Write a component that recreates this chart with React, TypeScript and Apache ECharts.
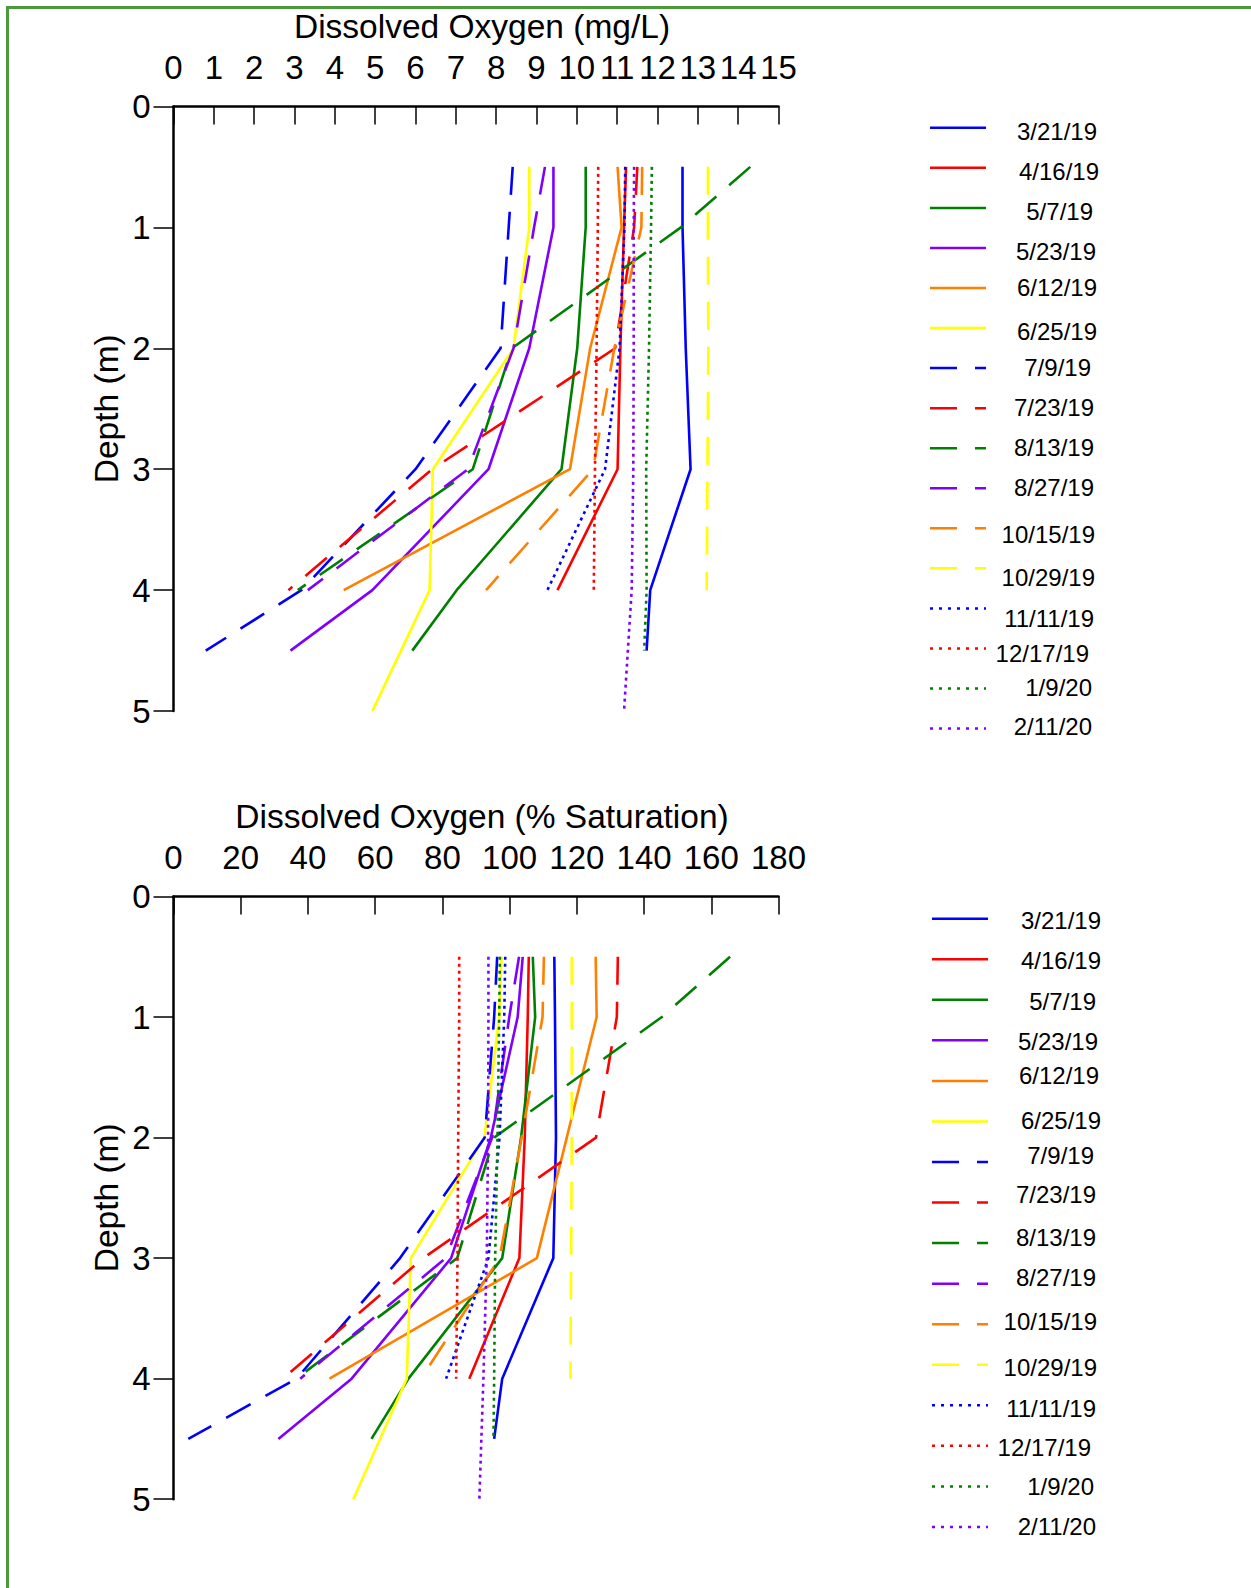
import React, { useEffect, useRef } from "react";
import * as echarts from "echarts";

// ---------- data ----------
const dates = [
  "3/21/19", "4/16/19", "5/7/19", "5/23/19", "6/12/19", "6/25/19",
  "7/9/19", "7/23/19", "8/13/19", "8/27/19", "10/15/19", "10/29/19",
  "11/11/19", "12/17/19", "1/9/20", "2/11/20",
];
const colors = [
  "#0000ff", "#ff0000", "#008000", "#8000ff", "#ff8000", "#ffff00",
  "#0000ff", "#ff0000", "#008000", "#8000ff", "#ff8000", "#ffff00",
  "#0000ff", "#ff0000", "#008000", "#8000ff",
];
const lineKinds = [
  "solid", "solid", "solid", "solid", "solid", "solid",
  "dashed", "dashed", "dashed", "dashed", "dashed", "dashed",
  "dotted", "dotted", "dotted", "dotted",
];

// depth (m) profiles
const depthTo4 = [0.5, 1, 2, 3, 4];
const depthTo45 = [0.5, 1, 2, 3, 4, 4.5];
const depthTo5 = [0.5, 1, 2, 3, 4, 5];
const seriesDepths = [
  depthTo45, depthTo4, depthTo45, depthTo45, depthTo4, depthTo5,
  depthTo45, depthTo4, depthTo4, depthTo4, depthTo4, depthTo4,
  depthTo4, depthTo4, depthTo45, depthTo5,
];

// dissolved oxygen (mg/L)
const mg_3_21_19 = [12.62, 12.62, 12.7, 12.82, 11.82, 11.73];
const mg_4_16_19 = [11.22, 11.17, 11.08, 11.01, 9.52];
const mg_5_7_19 = [10.22, 10.22, 10.01, 9.62, 7.02, 5.92];
const mg_5_23_19 = [9.42, 9.42, 8.82, 7.81, 4.93, 2.9];
const mg_6_12_19 = [11.01, 11.11, 10.33, 9.83, 4.22];
const mg_6_25_19 = [8.82, 8.82, 8.43, 6.43, 6.35, 4.93];
const mg_7_9_19 = [8.41, 8.31, 8.11, 6.0, 3.17, 0.8];
const mg_7_23_19 = [11.5, 11.42, 10.95, 6.41, 2.85];
const mg_8_13_19 = [14.3, 12.58, 8.39, 7.42, 3.08];
const mg_8_27_19 = [9.21, 8.94, 8.43, 7.3, 3.33];
const mg_10_15_19 = [11.62, 11.6, 10.93, 10.4, 7.75];
const mg_10_29_19 = [13.25, 13.25, 13.26, 13.24, 13.22];
const mg_11_11_19 = [11.2, 11.18, 11.06, 10.7, 9.27];
const mg_12_17_19 = [10.53, 10.52, 10.49, 10.45, 10.42];
const mg_1_9_20 = [11.86, 11.84, 11.79, 11.72, 11.73, 11.67];
const mg_2_11_20 = [11.42, 11.41, 11.41, 11.4, 11.36, 11.17];

// dissolved oxygen (% saturation)
const sat_3_21_19 = [113.3, 113.5, 113.8, 113.0, 97.8, 95.4];
const sat_4_16_19 = [105.7, 105.4, 104.5, 102.9, 88.0];
const sat_5_7_19 = [106.9, 107.6, 103.4, 97.8, 69.9, 58.9];
const sat_5_23_19 = [103.9, 102.4, 94.4, 82.6, 53.0, 31.2];
const sat_6_12_19 = [125.6, 125.9, 117.0, 108.1, 46.4];
const sat_6_25_19 = [97.6, 96.9, 92.5, 70.6, 69.4, 53.5];
const sat_7_9_19 = [96.3, 95.4, 92.6, 67.4, 36.6, 4.4];
const sat_7_23_19 = [132.2, 131.9, 125.7, 74.3, 32.5];
const sat_8_13_19 = [165.6, 145.3, 95.4, 84.4, 36.5];
const sat_8_27_19 = [102.8, 99.9, 94.8, 81.0, 37.7];
const sat_10_15_19 = [110.2, 109.8, 103.6, 97.0, 73.6];
const sat_10_29_19 = [118.5, 118.5, 118.5, 118.3, 118.1];
const sat_11_11_19 = [98.7, 98.4, 97.0, 93.7, 81.1];
const sat_12_17_19 = [85.0, 85.0, 84.7, 84.5, 84.1];
const sat_1_9_20 = [97.1, 96.9, 96.4, 95.7, 95.4, 95.2];
const sat_2_11_20 = [93.7, 93.7, 93.6, 93.2, 92.2, 91.0];

const mgValues = [
  mg_3_21_19, mg_4_16_19, mg_5_7_19, mg_5_23_19, mg_6_12_19, mg_6_25_19,
  mg_7_9_19, mg_7_23_19, mg_8_13_19, mg_8_27_19, mg_10_15_19, mg_10_29_19,
  mg_11_11_19, mg_12_17_19, mg_1_9_20, mg_2_11_20,
];
const satValues = [
  sat_3_21_19, sat_4_16_19, sat_5_7_19, sat_5_23_19, sat_6_12_19, sat_6_25_19,
  sat_7_9_19, sat_7_23_19, sat_8_13_19, sat_8_27_19, sat_10_15_19, sat_10_29_19,
  sat_11_11_19, sat_12_17_19, sat_1_9_20, sat_2_11_20,
];

// ---------- layout ----------
const FONT = "'Liberation Sans', Arial, Helvetica, sans-serif";
const legendTopTextY = [131.8, 171.4, 211, 251, 287.8, 331.4, 367.3, 407, 447.8, 487.8, 534.7, 577.6, 618.4, 653, 687.8, 726.5];
const legendBottomTextY = [920, 960.8, 1001.2, 1041.2, 1075.7, 1120.7, 1155.7, 1194.8, 1237.7, 1277.7, 1321.9, 1367.4, 1408.2, 1447.3, 1486.1, 1526.9];
const legendTopTextRight = [1097, 1099, 1093, 1096, 1097, 1097, 1091, 1094, 1094, 1094, 1095, 1095, 1094, 1089, 1092, 1092];
const legendBottomTextRight = [1101, 1101, 1096, 1098, 1099, 1101, 1094, 1096, 1096, 1096, 1097, 1097, 1096, 1091, 1094, 1096];

function plotDash(kind: string): any {
  if (kind === "dashed") return [28, 17];
  if (kind === "dotted") return [3, 4];
  return "solid";
}
function legendDash(kind: string): any {
  if (kind === "dashed") return [27, 18];
  if (kind === "dotted") return [3, 6];
  return null;
}

function buildSeries(values: number[][], idx: number) {
  return dates.map((name, i) => ({
    name: name,
    type: "line",
    xAxisIndex: idx,
    yAxisIndex: idx,
    data: values[i].map((v, j) => [v, seriesDepths[i][j]]),
    symbol: "none",
    showSymbol: false,
    silent: true,
    lineStyle: { color: colors[i], width: 2.6, type: plotDash(lineKinds[i]), cap: "butt" },
    itemStyle: { color: colors[i] },
  }));
}

function xAxisCfg(gridIndex: number, max: number, interval: number, name: string) {
  return {
    type: "value",
    gridIndex,
    position: "top",
    min: 0,
    max,
    interval,
    name,
    nameLocation: "middle",
    nameGap: 63,
    nameTextStyle: { fontSize: 33.5, color: "#000", fontFamily: FONT, padding: [0, 0, 0, 12] },
    axisLine: { show: true, onZero: false, lineStyle: { color: "#000", width: 2.5 } },
    axisTick: { show: true, inside: true, length: 18, lineStyle: { color: "#000", width: 1.5 } },
    axisLabel: { show: true, margin: 22.5, fontSize: 33, color: "#000", fontFamily: FONT },
    splitLine: { show: false },
  };
}

function yAxisCfg(gridIndex: number) {
  return {
    type: "value",
    gridIndex,
    inverse: true,
    min: 0,
    max: 5,
    interval: 1,
    name: "Depth (m)",
    nameLocation: "middle",
    nameGap: 50,
    nameTextStyle: { fontSize: 33.5, color: "#000", fontFamily: FONT },
    axisLine: { show: true, onZero: false, lineStyle: { color: "#000", width: 2.5 } },
    axisTick: { show: true, inside: false, length: 20, lineStyle: { color: "#000", width: 1.5 } },
    axisLabel: { show: true, margin: 23, fontSize: 33, color: "#000", fontFamily: FONT },
    splitLine: { show: false },
  };
}

function legendGraphics(lineX1: number, lineX2: number, lineY0: number, lineStep: number, textY: number[], textRight: number[]) {
  const out: any[] = [];
  dates.forEach((name, i) => {
    const y = lineY0 + i * lineStep;
    const dash = legendDash(lineKinds[i]);
    out.push({
      type: "line",
      silent: true,
      shape: { x1: lineX1, y1: y, x2: lineX2, y2: y },
      style: { stroke: colors[i], lineWidth: 2.5, lineDash: dash || undefined },
    });
    out.push({
      type: "text",
      silent: true,
      x: textRight[i],
      y: textY[i],
      style: {
        text: name,
        fontSize: 24,
        fontFamily: FONT,
        fill: "#000",
        align: "right",
        verticalAlign: "middle",
      },
    });
  });
  return out;
}

const option: any = {
  animation: false,
  backgroundColor: "transparent",
  grid: [
    { left: 173.5, top: 106.4, width: 605, height: 604.7, containLabel: false },
    { left: 173.5, top: 896.5, width: 605, height: 602.7, containLabel: false },
  ],
  xAxis: [
    xAxisCfg(0, 15, 1, "Dissolved Oxygen (mg/L)"),
    xAxisCfg(1, 180, 20, "Dissolved Oxygen (% Saturation)"),
  ],
  yAxis: [yAxisCfg(0), yAxisCfg(1)],
  series: [...buildSeries(mgValues, 0), ...buildSeries(satValues, 1)],
  graphic: [
    ...legendGraphics(930, 986, 127.8, 40.05, legendTopTextY, legendTopTextRight),
    ...legendGraphics(932, 988, 918.7, 40.55, legendBottomTextY, legendBottomTextRight),
  ],
};

export default function App() {
  const ref = useRef<HTMLDivElement>(null);
  useEffect(() => {
    if (!ref.current) return;
    const chart = echarts.init(ref.current, null, { renderer: "svg" });
    chart.setOption(option);
    return () => chart.dispose();
  }, []);
  return (
    <div style={{ position: "fixed", left: 0, top: 0, width: 1251, height: 1588, background: "#fff", overflow: "hidden" }}>
      <div
        style={{
          position: "absolute",
          left: 6,
          top: 6,
          width: 1300,
          height: 1700,
          borderLeft: "3px solid #4b9b3d",
          borderTop: "3px solid #4b9b3d",
        }}
      />
      <div ref={ref} style={{ position: "absolute", left: 0, top: 0, width: 1251, height: 1588 }} />
    </div>
  );
}
